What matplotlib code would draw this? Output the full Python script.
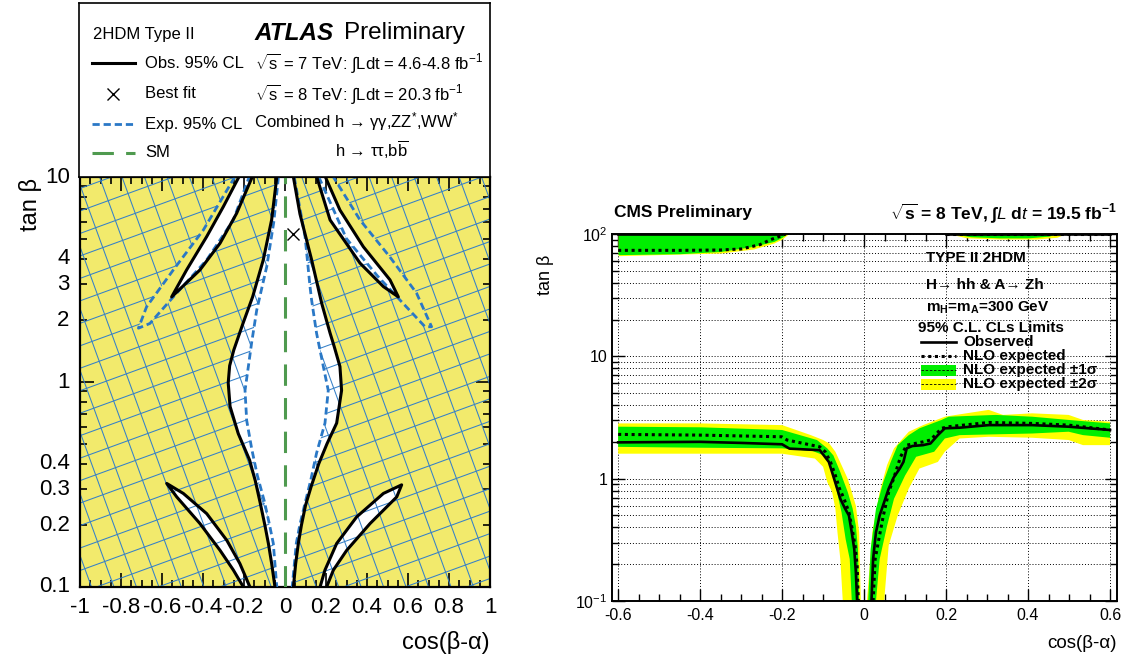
import matplotlib
matplotlib.use("Agg")
import matplotlib.pyplot as plt
import numpy as np
from matplotlib.path import Path
from matplotlib.collections import LineCollection
from matplotlib.ticker import FixedLocator, NullFormatter, MultipleLocator, FixedFormatter

plt.rcParams['font.family'] = ['Liberation Sans', 'DejaVu Sans']
plt.rcParams['mathtext.fontset'] = 'custom'
plt.rcParams['mathtext.rm'] = 'Liberation Sans'
plt.rcParams['mathtext.it'] = 'Liberation Sans:italic'
plt.rcParams['mathtext.bf'] = 'Liberation Sans:bold'
plt.rcParams['mathtext.default'] = 'regular'

# ---------------- ATLAS: contours in (cos(beta-alpha), tan beta) ----------------
# observed 95% CL, central allowed band
obs_band_left_x = [-0.040, -0.065, -0.106, -0.158, -0.205, -0.250, -0.270, -0.277, -0.268, -0.228, -0.173, -0.145, -0.122, -0.098, -0.081, -0.065, -0.049]
obs_band_left_y = [10.0, 6.2, 3.94, 2.6, 1.93, 1.43, 1.2, 0.99, 0.76, 0.56, 0.417, 0.33, 0.26, 0.2, 0.163, 0.13, 0.1]
obs_band_right_x = [0.041, 0.073, 0.130, 0.179, 0.220, 0.240, 0.268, 0.276, 0.252, 0.205, 0.165, 0.128, 0.100, 0.080, 0.065, 0.052, 0.041]
obs_band_right_y = [10.0, 6.6, 3.94, 2.42, 1.73, 1.49, 1.19, 0.91, 0.63, 0.5, 0.4, 0.31, 0.25, 0.2, 0.163, 0.13, 0.1]

# observed slivers
obs_ul_x = [-0.225, -0.301, -0.382, -0.480, -0.553, -0.415, -0.317, -0.236, -0.160]
obs_ul_y = [10.0, 7.16, 5.12, 3.52, 2.6, 3.52, 4.75, 6.65, 10.0]
obs_ur_x = [0.155, 0.220, 0.366, 0.480, 0.553, 0.512, 0.382, 0.268, 0.197]
obs_ur_y = [10.0, 6.17, 3.8, 2.92, 2.6, 3.15, 4.57, 6.9, 10.0]
obs_ll_x = [-0.203, -0.252, -0.317, -0.415, -0.528, -0.577, -0.496, -0.382, -0.284, -0.220, -0.171]
obs_ll_y = [0.1, 0.121, 0.151, 0.204, 0.275, 0.32, 0.286, 0.228, 0.169, 0.130, 0.1]
obs_lr_x = [0.171, 0.195, 0.252, 0.350, 0.480, 0.569, 0.545, 0.415, 0.301, 0.236, 0.203]
obs_lr_y = [0.1, 0.121, 0.163, 0.22, 0.286, 0.315, 0.275, 0.204, 0.151, 0.121, 0.1]

# expected 95% CL
exp_band_left_x = [-0.032, -0.055, -0.089, -0.138, -0.163, -0.172, -0.195, -0.187, -0.162, -0.135, -0.100, -0.075, -0.057, -0.040]
exp_band_left_y = [10.0, 6.0, 3.66, 2.24, 1.55, 1.33, 0.91, 0.65, 0.47, 0.35, 0.26, 0.2, 0.163, 0.1]
exp_band_right_x = [0.045, 0.098, 0.122, 0.130, 0.154, 0.187, 0.211, 0.195, 0.154, 0.125, 0.095, 0.072, 0.055, 0.035]
exp_band_right_y = [10.0, 5.1, 2.92, 2.5, 1.73, 1.19, 0.91, 0.63, 0.45, 0.33, 0.25, 0.2, 0.163, 0.1]
exp_ul_x = [-0.245, -0.399, -0.545, -0.675, -0.715, -0.659, -0.545, -0.382, -0.252, -0.175]
exp_ul_y = [10.0, 5.5, 3.52, 2.33, 1.83, 1.93, 2.6, 3.94, 6.17, 10.0]
exp_ur_x = [0.165, 0.300, 0.450, 0.561, 0.683, 0.715, 0.642, 0.512, 0.366, 0.236]
exp_ur_y = [10.0, 5.0, 3.3, 2.51, 1.86, 1.86, 2.71, 4.07, 6.17, 10.0]

sm_x = [0.0, 0.0]
sm_y = [0.1, 10.0]
best_fit = (0.037, 5.3)

atlas_yticks = [0.1, 0.2, 0.3, 0.4, 1, 2, 3, 4, 10]
atlas_ytick_labels = ['0.1', '0.2', '0.3', '0.4', '1', '2', '3', '4', '10']
atlas_xticks = [-1, -0.8, -0.6, -0.4, -0.2, 0, 0.2, 0.4, 0.6, 0.8, 1]
atlas_xtick_labels = ['-1', '-0.8', '-0.6', '-0.4', '-0.2', '0', '0.2', '0.4', '0.6', '0.8', '1']

# ---------------- CMS: tan beta limits vs cos(beta-alpha) ----------------
cms_obs_lo_left_x = [-0.6, -0.4, -0.3, -0.2, -0.182, -0.108, -0.086, -0.077, -0.067, -0.058, -0.046, -0.037, -0.030, -0.024, -0.020, -0.017]
cms_obs_lo_left_y = [1.98, 2.0, 1.96, 1.91, 1.76, 1.71, 1.37, 1.10, 0.855, 0.685, 0.566, 0.50, 0.363, 0.266, 0.17, 0.1]
cms_obs_lo_right_x = [0.018, 0.022, 0.029, 0.038, 0.049, 0.060, 0.072, 0.087, 0.096, 0.104, 0.118, 0.144, 0.162, 0.180, 0.197, 0.233, 0.304, 0.410, 0.499, 0.6]
cms_obs_lo_right_y = [0.1, 0.22, 0.365, 0.5, 0.643, 0.828, 1.02, 1.21, 1.37, 1.77, 1.85, 1.88, 1.94, 2.27, 2.58, 2.61, 2.74, 2.74, 2.66, 2.5]
cms_exp_lo_left_x = [-0.6, -0.4, -0.201, -0.188, -0.108, -0.095, -0.082, -0.070, -0.060, -0.049, -0.037, -0.029, -0.022, -0.017, -0.014]
cms_exp_lo_left_y = [2.30, 2.27, 2.20, 2.07, 1.82, 1.66, 1.37, 1.06, 0.83, 0.685, 0.532, 0.388, 0.283, 0.194, 0.1]
cms_exp_lo_right_x = [0.022, 0.027, 0.036, 0.047, 0.060, 0.072, 0.089, 0.104, 0.144, 0.162, 0.189, 0.206, 0.304, 0.410, 0.499, 0.6]
cms_exp_lo_right_y = [0.1, 0.22, 0.321, 0.5, 0.776, 1.0, 1.51, 1.88, 2.0, 2.07, 2.58, 2.66, 2.88, 2.83, 2.74, 2.5]

# bands as closed outlines (x, tan beta)
cms_1s_left_x = [-0.6, -0.4, -0.2, -0.115, -0.09, -0.075, -0.058, -0.04, -0.028, -0.02, -0.015, -0.012,
                 -0.03, -0.035, -0.045, -0.055, -0.068, -0.083, -0.1, -0.125, -0.2, -0.4, -0.6]
cms_1s_left_y = [2.66, 2.63, 2.5, 2.07, 1.77, 1.55, 1.13, 0.78, 0.57, 0.41, 0.27, 0.1,
                 0.1, 0.22, 0.32, 0.53, 0.83, 1.29, 1.56, 1.68, 1.77, 1.79, 1.82]
cms_2s_left_x = [-0.6, -0.4, -0.2, -0.13, -0.1, -0.085, -0.07, -0.055, -0.04, -0.03, -0.02, -0.012, -0.008,
                 -0.052, -0.058, -0.065, -0.07, -0.078, -0.09, -0.1, -0.12, -0.2, -0.6]
cms_2s_left_y = [2.83, 2.83, 2.74, 2.27, 2.07, 1.94, 1.66, 1.29, 1.0, 0.78, 0.60, 0.365, 0.1,
                 0.1, 0.22, 0.365, 0.567, 0.777, 0.94, 1.25, 1.46, 1.6, 1.6]
cms_1s_right_x = [0.010, 0.016, 0.029, 0.047, 0.065, 0.082, 0.109, 0.135, 0.189, 0.206, 0.321, 0.41, 0.499, 0.6,
                  0.6, 0.534, 0.499, 0.41, 0.233, 0.197, 0.171, 0.127, 0.1, 0.073, 0.056, 0.038, 0.029]
cms_1s_right_y = [0.1, 0.266, 0.567, 0.94, 1.37, 1.88, 2.27, 2.58, 3.02, 3.21, 3.32, 3.21, 3.02, 2.83,
                  2.16, 2.27, 2.42, 2.34, 2.27, 2.13, 1.66, 1.51, 1.06, 0.685, 0.41, 0.22, 0.1]
cms_2s_right_x = [0.007, 0.020, 0.038, 0.056, 0.073, 0.109, 0.144, 0.197, 0.224, 0.304, 0.339, 0.41, 0.499, 0.534, 0.6,
                  0.6, 0.534, 0.499, 0.41, 0.304, 0.233, 0.197, 0.180, 0.135, 0.109, 0.082, 0.060, 0.049]
cms_2s_right_y = [0.1, 0.365, 0.777, 1.29, 1.77, 2.42, 2.74, 3.21, 3.32, 3.65, 3.32, 3.42, 3.32, 3.02, 2.92,
                  1.88, 1.88, 2.07, 2.16, 2.2, 2.13, 1.66, 1.37, 1.21, 0.83, 0.5, 0.284, 0.1]

# upper branch
cms_exp_hi_left_x = [-0.6, -0.45, -0.35, -0.30, -0.254, -0.228, -0.201, -0.191]
cms_exp_hi_left_y = [73.5, 73.5, 74.0, 75.4, 81.8, 89.9, 96.9, 100.0]
cms_1s_hi_left_x = [-0.6, -0.45, -0.35, -0.27, -0.22, -0.2, -0.19]
cms_1s_hi_left_y = [67.8, 69.0, 72.0, 79.3, 87.0, 94.0, 100.0]
cms_2s_hi_left_x = [-0.6, -0.35, -0.27, -0.22, -0.2, -0.185]
cms_2s_hi_left_y = [66.5, 69.9, 75.4, 84.4, 91.0, 100.0]
cms_1s_hi_right_x = [0.22, 0.26, 0.33, 0.40, 0.45, 0.47]
cms_1s_hi_right_y = [100.0, 95.0, 93.0, 93.0, 96.0, 100.0]
cms_2s_hi_right_x = [0.21, 0.25, 0.33, 0.42, 0.47, 0.49]
cms_2s_hi_right_y = [100.0, 93.0, 91.0, 91.0, 94.0, 100.0]
cms_exp_hi_right_x = [0.2, 0.6]
cms_exp_hi_right_y = [100.0, 100.0]
cms_obs_hi_left_x = [-0.6, -0.2]
cms_obs_hi_right_x = [0.2, 0.6]
cms_obs_hi_y = [100.0, 100.0]

cms_xticks = [-0.6, -0.4, -0.2, 0, 0.2, 0.4, 0.6]
cms_xtick_labels = ['-0.6', '-0.4', '-0.2', '0', '0.2', '0.4', '0.6']

YELLOW = '#f2ea6c'
HATCH_BLUE = '#3580c8'
EXP_BLUE = '#2a78c6'
SM_GREEN = '#4f9a4f'
CMS_GREEN = '#00ee00'
CMS_YELLOW = '#ffff00'

W, H = 1131, 661
fig = plt.figure(figsize=(W / 100, H / 100), dpi=100)


def fig_rect(x0, y0, x1, y1):
    return [x0 / W, 1 - y1 / H, (x1 - x0) / W, (y1 - y0) / H]


def ring(xs, ys, clockwise):
    xs = np.asarray(xs, float)
    ys = np.asarray(ys, float)
    ly = np.log10(ys)
    area = 0.5 * np.sum(xs * np.roll(ly, -1) - np.roll(xs, -1) * ly)
    if (area < 0) != clockwise:
        xs, ys = xs[::-1], ys[::-1]
    v = np.column_stack([xs, ys])
    v = np.vstack([v, v[:1]])
    codes = [Path.MOVETO] + [Path.LINETO] * (len(v) - 2) + [Path.CLOSEPOLY]
    return v, codes


# ================= left: ATLAS =================
ax = fig.add_axes(fig_rect(80, 177, 490, 587))
ax.set_yscale('log')
ax.set_xlim(-1, 1)
ax.set_ylim(0.1, 10)
ax.set_facecolor(YELLOW)

# observed allowed regions in white
ax.fill(obs_band_left_x + obs_band_right_x[::-1], obs_band_left_y + obs_band_right_y[::-1],
        color='white', lw=0, zorder=1)
for xs, ys in [(obs_ul_x, obs_ul_y), (obs_ur_x, obs_ur_y), (obs_ll_x, obs_ll_y), (obs_lr_x, obs_lr_y)]:
    ax.fill(xs, ys, color='white', lw=0, zorder=1)

# hatching = expected exclusion: everywhere outside the expected-allowed regions
verts, codes = [], []
v, c = ring([-1.2, 1.2, 1.2, -1.2], [0.05, 0.05, 20, 20], clockwise=False)
verts.append(v); codes += c
holes = [(exp_band_left_x + exp_band_right_x[::-1], exp_band_left_y + exp_band_right_y[::-1]),
         (exp_ul_x, exp_ul_y), (exp_ur_x, exp_ur_y)]
for xs, ys in holes:
    v, c = ring(xs, ys, clockwise=True)
    verts.append(v); codes += c
clip = Path(np.vstack(verts), codes)

segs = []
for ang in (20, 110):
    th = np.radians(ang)
    d = np.array([np.cos(th), np.sin(th)])
    n = np.array([-np.sin(th), np.cos(th)])
    for k in np.arange(-1.6, 1.6, 0.0515):
        p = np.array([0.5, 0.5]) + k * n
        segs.append([p - 2 * d, p + 2 * d])
hatch = LineCollection(segs, colors=HATCH_BLUE, linewidths=0.75, transform=ax.transAxes, zorder=2)
hatch.set_clip_path(clip, ax.transData)
hatch.set_clip_box(ax.bbox)
ax.add_collection(hatch)

# contours
exp_kw = dict(color=EXP_BLUE, lw=2.0, dashes=(2.6, 1.4), zorder=3)
ax.plot(exp_band_left_x, exp_band_left_y, **exp_kw)
ax.plot(exp_band_right_x, exp_band_right_y, **exp_kw)
ax.plot(exp_ul_x, exp_ul_y, **exp_kw)
ax.plot(exp_ur_x, exp_ur_y, **exp_kw)

ax.plot(sm_x, sm_y, color=SM_GREEN, lw=2.2, dashes=(7, 4), zorder=3.5)

obs_kw = dict(color='black', lw=2.2, zorder=4, solid_joinstyle='round')
ax.plot(obs_band_left_x, obs_band_left_y, **obs_kw)
ax.plot(obs_band_right_x, obs_band_right_y, **obs_kw)
for xs, ys in [(obs_ul_x, obs_ul_y), (obs_ur_x, obs_ur_y), (obs_ll_x, obs_ll_y), (obs_lr_x, obs_lr_y)]:
    ax.plot(xs, ys, **obs_kw)

ax.plot([best_fit[0]], [best_fit[1]], marker='x', ms=9, mew=1.0, color='black', ls='none', zorder=5)

ax.yaxis.set_major_locator(FixedLocator([0.1, 1, 10]))
ax.yaxis.set_minor_locator(FixedLocator([0.2, 0.3, 0.4, 0.5, 0.6, 0.7, 0.8, 0.9, 2, 3, 4, 5, 6, 7, 8, 9]))
ax.yaxis.set_major_formatter(NullFormatter())
ax.yaxis.set_minor_formatter(NullFormatter())
ax.xaxis.set_major_locator(FixedLocator(atlas_xticks))
ax.xaxis.set_minor_locator(MultipleLocator(0.05))
ax.set_xticklabels(atlas_xtick_labels, fontsize=16)
ax.tick_params(which='both', direction='in', top=True, right=True, width=1.2)
ax.tick_params(which='major', length=10)
ax.tick_params(which='minor', length=5)
ax.tick_params(axis='x', pad=7)
for s in ax.spines.values():
    s.set_linewidth(1.6)
for yv, lab in zip(atlas_yticks, atlas_ytick_labels):
    ax.text(-0.025, yv, lab, transform=ax.get_yaxis_transform(), ha='right', va='center', fontsize=16)

fig.text(30 / W, 1 - 205 / H, 'tan \u03b2', rotation=90, ha='center', va='center', fontsize=17)
fig.text(490 / W, 1 - 643 / H, 'cos(\u03b2-\u03b1)', ha='right', va='center', fontsize=17)

# header box with legend and labels
bx = fig.add_axes(fig_rect(79, 3, 490, 177))
bx.set_xlim(79, 490)
bx.set_ylim(177, 3)
bx.set_xticks([])
bx.set_yticks([])
for s in bx.spines.values():
    s.set_linewidth(1.2)

bx.text(93, 35, '2HDM Type II', ha='left', va='center', fontsize=12)
bx.plot([92, 135], [63, 63], color='black', lw=2.2)
bx.text(145, 63, 'Obs. 95% CL', ha='left', va='center', fontsize=12)
bx.plot([113], [94], marker='x', ms=9, mew=1.0, color='black')
bx.text(145, 94, 'Best fit', ha='left', va='center', fontsize=12)
bx.plot([92, 135], [124, 124], color=EXP_BLUE, lw=2.0, dashes=(2.6, 1.4))
bx.text(145, 124, 'Exp. 95% CL', ha='left', va='center', fontsize=12)
bx.plot([92, 135], [153, 153], color=SM_GREEN, lw=2.2, dashes=(7, 4))
bx.text(145, 153, 'SM', ha='left', va='center', fontsize=12)

bx.text(255, 33, 'ATLAS', ha='left', va='center', fontsize=17.5, fontweight='bold', fontstyle='italic')
bx.text(344, 33, 'Preliminary', ha='left', va='center', fontsize=17.5)
bx.text(255, 63, '$\\sqrt{s}$ = 7 TeV: \u222bLdt = 4.6-4.8 fb$^{-1}$', ha='left', va='center', fontsize=12)
bx.text(255, 94, '$\\sqrt{s}$ = 8 TeV: \u222bLdt = 20.3 fb$^{-1}$', ha='left', va='center', fontsize=12)
bx.text(254, 122, 'Combined h \u2192 \u03b3\u03b3,ZZ$^{*}$,WW$^{*}$', ha='left', va='center', fontsize=12)
bx.text(335, 150, 'h \u2192 \u03c4\u03c4,b$\\overline{\\mathrm{b}}$', ha='left', va='center', fontsize=12)

# ================= right: CMS =================
cx = fig.add_axes(fig_rect(612, 234, 1117, 601))
cx.set_yscale('log')
cx.set_xlim(-0.615, 0.617)
cx.set_ylim(0.1, 100)

cx.fill(cms_2s_left_x, cms_2s_left_y, color=CMS_YELLOW, lw=0, zorder=1)
cx.fill(cms_2s_right_x, cms_2s_right_y, color=CMS_YELLOW, lw=0, zorder=1)
cx.fill_between(cms_2s_hi_left_x, cms_2s_hi_left_y, 100, color=CMS_YELLOW, lw=0, zorder=1)
cx.fill_between(cms_2s_hi_right_x, cms_2s_hi_right_y, 100, color=CMS_YELLOW, lw=0, zorder=1)
cx.fill(cms_1s_left_x, cms_1s_left_y, color=CMS_GREEN, lw=0, zorder=1.5)
cx.fill(cms_1s_right_x, cms_1s_right_y, color=CMS_GREEN, lw=0, zorder=1.5)
cx.fill_between(cms_1s_hi_left_x, cms_1s_hi_left_y, 100, color=CMS_GREEN, lw=0, zorder=1.5)
cx.fill_between(cms_1s_hi_right_x, cms_1s_hi_right_y, 100, color=CMS_GREEN, lw=0, zorder=1.5)

dot_kw = dict(color='black', lw=2.2, ls=(0, (1.0, 1.2)), zorder=3)
cx.plot(cms_exp_lo_left_x, cms_exp_lo_left_y, **dot_kw)
cx.plot(cms_exp_lo_right_x, cms_exp_lo_right_y, **dot_kw)
cx.plot(cms_exp_hi_left_x, cms_exp_hi_left_y, **dot_kw)
cx.plot(cms_exp_hi_right_x, cms_exp_hi_right_y, **dot_kw)
solid_kw = dict(color='black', lw=1.9, zorder=4)
cx.plot(cms_obs_lo_left_x, cms_obs_lo_left_y, **solid_kw)
cx.plot(cms_obs_lo_right_x, cms_obs_lo_right_y, **solid_kw)
cx.plot(cms_obs_hi_left_x, cms_obs_hi_y, **solid_kw)
cx.plot(cms_obs_hi_right_x, cms_obs_hi_y, **solid_kw)

cx.xaxis.set_major_locator(FixedLocator(cms_xticks))
cx.xaxis.set_minor_locator(MultipleLocator(0.05))
cx.set_xticklabels(cms_xtick_labels, fontsize=11.5)
cx.yaxis.set_major_locator(FixedLocator([0.1, 1, 10, 100]))
cx.yaxis.set_minor_locator(FixedLocator([m * 10.0 ** e for e in (-1, 0, 1) for m in range(2, 10)]))
cx.yaxis.set_major_formatter(FixedFormatter(['$10^{-1}$', '1', '10', '$10^{2}$']))
cx.yaxis.set_minor_formatter(NullFormatter())
cx.tick_params(which='both', direction='in', top=True, right=True, width=1.0, labelsize=11.5)
cx.tick_params(which='major', length=9)
cx.tick_params(which='minor', length=5)
cx.tick_params(axis='x', pad=5)
cx.grid(True, which='major', axis='x', color='black', lw=0.7, ls=(0, (1, 2)))
cx.grid(True, which='both', axis='y', color='black', lw=0.7, ls=(0, (1, 2)))
cx.set_axisbelow(True)
for s in cx.spines.values():
    s.set_linewidth(1.4)
    s.set_zorder(6)

fig.text(614 / W, 1 - 213 / H, 'CMS Preliminary', ha='left', va='center', fontsize=12.5, fontweight='bold')
fig.text(1117 / W, 1 - 213 / H, '$\\sqrt{\\mathbf{s}}$ = 8 TeV, \u222b$\\mathit{L}$ d$\\mathit{t}$ = 19.5 fb$^{\\mathbf{-1}}$',
         ha='right', va='center', fontsize=12.5, fontweight='bold')
fig.text(545 / W, 1 - 275 / H, 'tan \u03b2', rotation=90, ha='center', va='center', fontsize=13)
fig.text(1117 / W, 1 - 643 / H, 'cos(\u03b2-\u03b1)', ha='right', va='center', fontsize=13.5)


# in-frame labels and legend (axes fractions)
def ax_pt(px, py):
    return (px - 612) / 505, (601 - py) / 367


tk = dict(transform=cx.transAxes, ha='left', va='center', fontsize=11, fontweight='bold', zorder=7)
cx.text(*ax_pt(926, 258), 'TYPE II 2HDM', **tk)
cx.text(*ax_pt(926, 285), 'H\u2192 hh & A\u2192 Zh', **tk)
cx.text(*ax_pt(926, 308), 'm$_{\\mathbf{H}}$=m$_{\\mathbf{A}}$=300 GeV', **tk)
cx.text(*ax_pt(918, 328), '95% C.L. CLs Limits', **tk)
legend_rows = [('Observed', 342), ('NLO expected', 356), ('NLO expected \u00b11\u03c3', 370), ('NLO expected \u00b12\u03c3', 384)]
for lab, py in legend_rows:
    cx.text(*ax_pt(963, py), lab, **tk)
x0, _ = ax_pt(921, 0)
x1, _ = ax_pt(956, 0)
_, y_obs = ax_pt(0, 342)
_, y_exp = ax_pt(0, 356)
_, y_1s = ax_pt(0, 370)
_, y_2s = ax_pt(0, 384)
hbox = 11 / 367
cx.add_patch(plt.Rectangle((x0, y_1s - hbox / 2), x1 - x0, hbox, transform=cx.transAxes, color=CMS_GREEN, lw=0, zorder=6))
cx.add_patch(plt.Rectangle((x0, y_2s - hbox / 2), x1 - x0, hbox, transform=cx.transAxes, color=CMS_YELLOW, lw=0, zorder=6))
cx.plot([x0, x1], [y_obs, y_obs], transform=cx.transAxes, color='black', lw=1.9, zorder=7)
cx.plot([x0, x1], [y_exp, y_exp], transform=cx.transAxes, color='black', lw=2.2, ls=(0, (1.0, 1.2)), zorder=7)
cx.plot([x0, x1], [y_1s, y_1s], transform=cx.transAxes, color='black', lw=0.6, ls=(0, (3, 2)), zorder=7)
cx.plot([x0, x1], [y_2s, y_2s], transform=cx.transAxes, color='black', lw=0.6, ls=(0, (3, 2)), zorder=7)

fig.savefig('out.png', dpi=100)
